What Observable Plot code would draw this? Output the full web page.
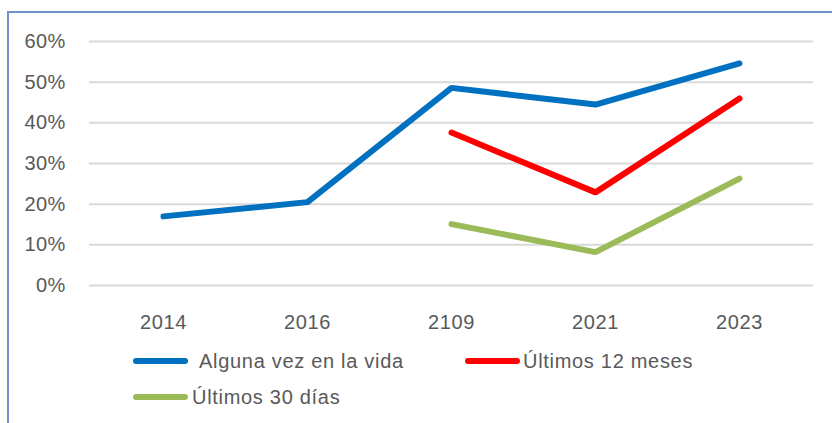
<!DOCTYPE html>
<html>
<head>
<meta charset="utf-8">
<script src="https://cdn.jsdelivr.net/npm/d3@7"></script>
<script src="https://cdn.jsdelivr.net/npm/@observablehq/plot@0.6"></script>
<style>
  html, body { margin: 0; padding: 0; background: #fff; }
  #wrap { position: relative; width: 832px; height: 423px; overflow: hidden; font-family: "Liberation Sans", Arial, sans-serif; }
  #frame { position: absolute; left: 7px; top: 11px; width: 900px; height: 600px; border: 2px solid #6f93c8; box-sizing: border-box; }
  #chart { position: absolute; left: 0; top: 0; }
  #chart svg g[aria-label="x-axis tick label"] text { letter-spacing: 0.6px; }
  #chart svg g[aria-label="y-axis tick label"] text { letter-spacing: 0.3px; }
  .leg { position: absolute; display: flex; align-items: center; font-size: 20px; color: #595959; white-space: nowrap; letter-spacing: 0.7px; }
  .sw { display: inline-block; height: 6px; border-radius: 3px; }
</style>
</head>
<body>
<div id="wrap"><div id="frame"></div><div id="chart"></div></div>
<script>
const years = ["2014", "2016", "2109", "2021", "2023"];
const seriesNames = ["Alguna vez en la vida", "Últimos 12 meses", "Últimos 30 días"];
const alguna = [0.170, 0.205, 0.486, 0.445, 0.546];
const ultimos12 = [null, null, 0.376, 0.229, 0.460];
const ultimos30 = [null, null, 0.151, 0.082, 0.263];
const colors = ["#0070C0", "#FF0000", "#9BBB59"];
const yTicks = [0, 0.1, 0.2, 0.3, 0.4, 0.5, 0.6];

const allSeries = [alguna, ultimos12, ultimos30];
const rows = [];
allSeries.forEach((vals, si) => {
  vals.forEach((v, i) => rows.push({year: years[i], value: v, series: seriesNames[si]}));
});

const chart = Plot.plot({
  width: 832,
  height: 340,
  marginTop: 41,
  marginBottom: 55,
  marginLeft: 89,
  marginRight: 19,
  style: { fontFamily: '"Liberation Sans", Arial, sans-serif', fontSize: "20px", color: "#595959", background: "transparent" },
  x: { type: "band", domain: years, padding: 0, label: null },
  y: { domain: [0, 0.6], label: null },
  color: { domain: seriesNames, range: colors },
  marks: [
    Plot.ruleY(yTicks, { stroke: "#d9d9d9", strokeWidth: 2, strokeOpacity: 1 }),
    Plot.axisY({ ticks: yTicks, tickFormat: d => Math.round(d * 100) + "%", tickSize: 0, tickPadding: 24, label: null, fill: "#595959", fontSize: 20 }),
    Plot.axisX({ tickSize: 0, tickPadding: 29, label: null, fill: "#595959", fontSize: 20 }),
    Plot.line(rows, { x: "year", y: "value", z: "series", stroke: "series", strokeWidth: 6, strokeLinecap: "round", strokeLinejoin: "miter", defined: d => d.value != null })
  ]
});
document.getElementById("chart").appendChild(chart);

// legend
const legPos = [
  {left: 133, top: 361, sw: 55, gap: 11},
  {left: 465, top: 361, sw: 55, gap: 3},
  {left: 133, top: 397, sw: 55, gap: 4}
];
const wrap = document.getElementById("wrap");
seriesNames.forEach((name, i) => {
  const p = legPos[i];
  const d = document.createElement("div");
  d.className = "leg";
  d.style.left = p.left + "px";
  d.style.top = (p.top - 12) + "px";
  d.style.height = "24px";
  const s = document.createElement("span");
  s.className = "sw";
  s.style.width = p.sw + "px";
  s.style.background = colors[i];
  s.style.marginRight = p.gap + "px";
  const t = document.createElement("span");
  t.textContent = name;
  d.appendChild(s); d.appendChild(t);
  wrap.appendChild(d);
});
</script>
</body>
</html>
